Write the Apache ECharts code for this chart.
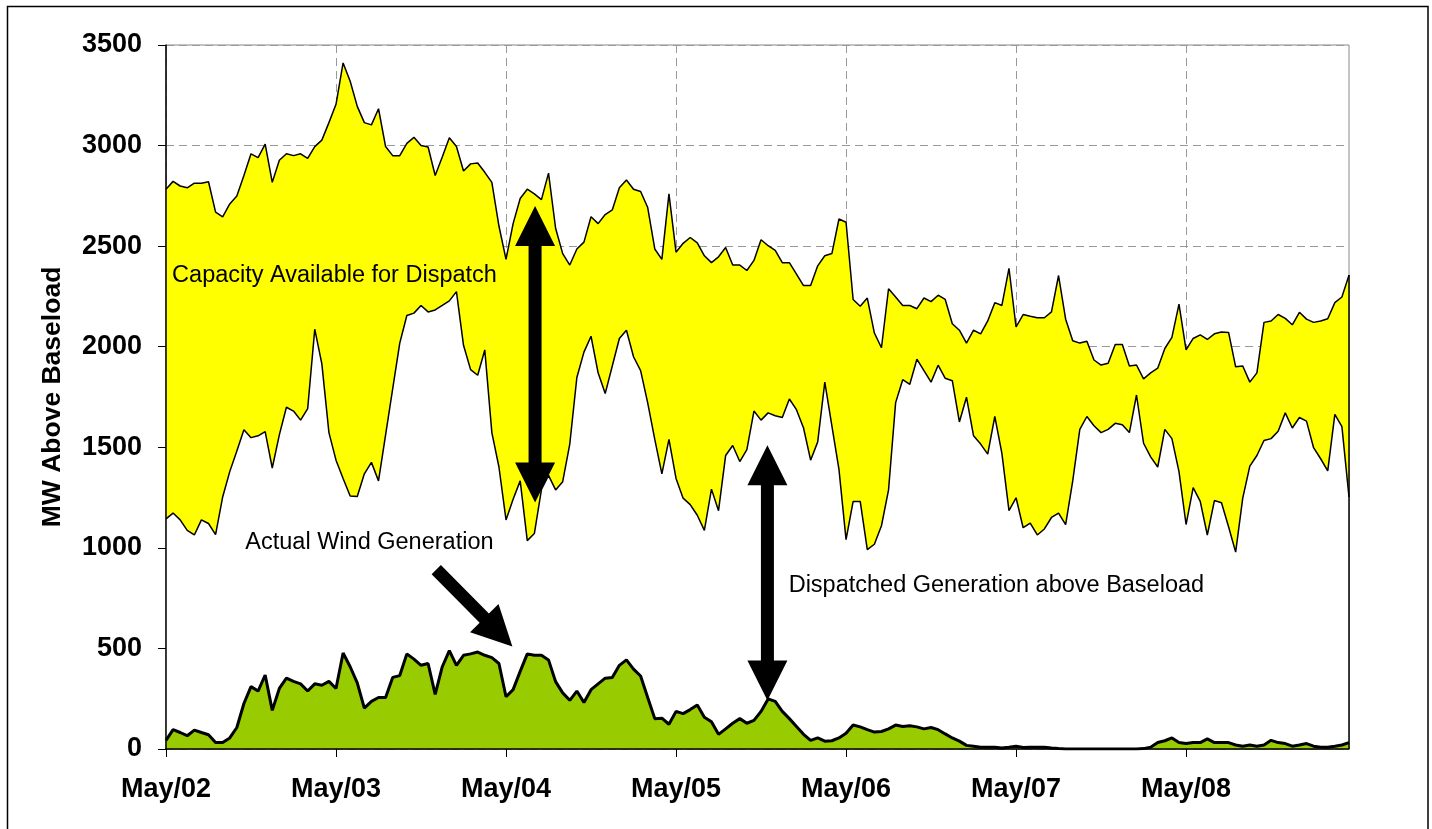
<!DOCTYPE html>
<html>
<head>
<meta charset="utf-8">
<script src="https://cdn.jsdelivr.net/npm/echarts@6/dist/echarts.min.js"></script>
<style>
html,body{margin:0;padding:0;background:#fff;}
#chart{width:1432px;height:829px;}
</style>
</head>
<body>
<div id="chart"></div>
<script>
// x axis: one label per day, hourly points in between
const dayLabels = ['May/02','May/03','May/04','May/05','May/06','May/07','May/08'];

// upper edge of the yellow band (MW above baseload), one row per day
const capacityTop = [
  2783,2822,2799,2790,2813,2813,2820,2669,2646,2710,2749,2851,2959,2940,3007,2817,2927,2959,2950,2959,2936,2995,3027,3114,
  3205,3411,3320,3195,3114,3103,3183,2995,2950,2950,3011,3041,3000,2993,2851,2943,3039,2995,2874,2909,2913,2867,2817,2600,
  2434,2612,2737,2783,2760,2731,2863,2589,2463,2406,2486,2520,2646,2612,2657,2680,2790,2829,2783,2772,2692,2486,2434,2760,
  2470,2514,2543,2516,2452,2418,2447,2493,2406,2406,2379,2429,2532,2502,2479,2418,2418,2361,2304,2304,2402,2452,2463,2635,
  2619,2235,2201,2242,2068,1995,2288,2247,2205,2205,2189,2242,2224,2256,2235,2114,2082,2018,2082,2064,2128,2219,2205,2390,
  2098,2160,2151,2144,2144,2173,2354,2137,2030,2018,2027,1934,1909,1918,2011,2011,1904,1909,1840,1870,1893,1991,2046,2212,
  1984,2041,2059,2036,2064,2073,2071,1900,1904,1824,1870,2121,2128,2160,2141,2109,2171,2137,2121,2128,2139,2219,2247,2356
];

// dispatched generation above baseload (lower edge of the yellow band)
const dispatched = [
  1144,1173,1139,1087,1064,1139,1121,1066,1253,1379,1482,1587,1548,1557,1578,1397,1562,1699,1680,1635,1692,2087,1915,1573,
  1436,1345,1258,1255,1368,1425,1333,1562,1790,2018,2155,2167,2205,2173,2183,2205,2228,2274,2007,1886,1858,1984,1573,1402,
  1139,1242,1333,1036,1071,1290,1360,1288,1329,1516,1847,1973,2052,1870,1767,1904,2041,2082,1950,1881,1721,1539,1368,1539,
  1345,1247,1215,1162,1087,1292,1185,1459,1509,1429,1488,1680,1635,1671,1657,1648,1740,1687,1596,1436,1527,1824,1607,1390,
  1041,1231,1231,991,1018,1110,1288,1722,1836,1813,1938,1881,1824,1908,1843,1831,1626,1749,1557,1516,1466,1653,1470,1185,
  1249,1100,1123,1064,1094,1151,1173,1116,1333,1589,1653,1607,1573,1589,1619,1612,1573,1760,1520,1452,1402,1589,1543,1379,
  1116,1299,1231,1064,1235,1224,1105,979,1247,1406,1459,1534,1543,1580,1671,1596,1648,1630,1498,1443,1383,1664,1603,1253
];

// actual wind generation
const windGen = [
  43,96,82,66,94,82,71,32,32,55,107,226,310,288,368,192,301,352,336,324,288,324,317,336,
  301,477,409,329,203,237,256,256,356,365,473,447,416,425,272,409,489,416,466,473,482,466,454,425,
  260,295,386,473,466,466,443,335,279,242,288,231,295,324,352,356,416,443,397,363,256,151,153,123,
  187,176,196,219,158,135,73,100,128,151,128,142,187,249,237,187,151,112,73,43,55,39,41,55,
  78,119,110,96,84,87,100,119,112,116,110,100,107,96,75,55,39,18,14,9,9,9,5,9,
  14,7,9,9,9,5,2,0,0,0,0,0,0,0,0,0,0,0,2,9,32,41,55,32,
  27,32,32,50,32,32,32,20,14,20,14,20,43,32,27,14,20,27,14,9,9,14,20,32
];

// annotations, in data units (hour index, MW)
const notes = [
  {text:'Capacity Available for Dispatch', h:0.86, v:2352},
  {text:'Actual Wind Generation', h:11.2, v:1026},
  {text:'Dispatched Generation above Baseload', h:87.9, v:812}
];
const arrows = [
  {from:[52.1,1225], to:[52.1,2700], both:true},
  {from:[84.9,241], to:[84.9,1510], both:true},
  {from:[38.15,892], to:[48.9,509], both:false}
];

const hours = [];
dayLabels.forEach(d => { for (let i=0;i<24;i++) hours.push(d + ' ' + i + ':00'); });

const FONT = '"Liberation Sans", Arial, sans-serif';
const gridLine = {color:'#999', width:1, type:[8,5]};

const chart = echarts.init(document.getElementById('chart'));
chart.setOption({
  animation:false,
  backgroundColor:'#fff',
  grid:{left:166, right:83, top:45, bottom:80, show:true, borderColor:'#888', borderWidth:1},
  xAxis:[
    { // gridlines only, under the areas
      type:'category', data:hours, boundaryGap:false,
      axisLine:{show:false}, axisTick:{show:false}, axisLabel:{show:false},
      splitLine:{show:true, interval:23, lineStyle:gridLine}
    },
    { // axis line, ticks, labels on top
      type:'category', data:hours, boundaryGap:false, position:'bottom', z:10,
      axisLine:{lineStyle:{color:'#000', width:1.5}},
      axisTick:{interval:23, length:8, lineStyle:{color:'#000'}},
      axisLabel:{interval:23, margin:27, hideOverlap:false, color:'#000', fontSize:27, fontWeight:'bold', fontFamily:FONT,
        formatter:v => v.split(' ')[0]},
      splitLine:{show:false}
    }
  ],
  yAxis:[
    {
      type:'value', min:0, max:3500, interval:500,
      axisLine:{show:false}, axisTick:{show:false}, axisLabel:{show:false},
      splitLine:{show:true, lineStyle:gridLine}
    },
    {
      type:'value', min:0, max:3500, interval:500, position:'left', z:10,
      name:'MW Above Baseload', nameLocation:'middle', nameGap:100, nameRotate:90,
      nameTextStyle:{color:'#000', fontSize:26.5, fontWeight:'bold', fontFamily:FONT},
      axisLine:{show:true, lineStyle:{color:'#000', width:1.5}},
      axisTick:{show:true, length:8, lineStyle:{color:'#000'}},
      axisLabel:{margin:24, color:'#000', fontSize:27, fontWeight:'bold', fontFamily:FONT,
        formatter:v => String(v)},
      splitLine:{show:false}
    }
  ],
  series:[
    {
      name:'Capacity Available', type:'line', data:capacityTop, symbol:'none',
      lineStyle:{color:'#000', width:1.5}, areaStyle:{color:'#FFFF00', opacity:1},
      markLine:{silent:true, symbol:'none', label:{show:false},
        lineStyle:{color:'#000', width:1.5, type:'solid'},
        data:[[{coord:[capacityTop.length-1, 0]}, {coord:[capacityTop.length-1, capacityTop[capacityTop.length-1]]}]]}
    },
    {
      name:'Dispatched Generation', type:'line', data:dispatched, symbol:'none',
      lineStyle:{color:'#000', width:1.5}, areaStyle:{color:'#fff', opacity:1}
    },
    {
      name:'Actual Wind', type:'line', data:windGen, symbol:'none',
      lineStyle:{color:'#000', width:3}, areaStyle:{color:'#99CC00', opacity:1}
    }
  ]
});

// map annotation data units to pixels
const x0 = chart.convertToPixel({xAxisIndex:0}, 0);
const x1 = chart.convertToPixel({xAxisIndex:0}, hours.length-1);
const xPx = h => x0 + (x1-x0)*h/(hours.length-1);
const yPx = v => chart.convertToPixel({yAxisIndex:0}, v);

function arrowPoints(a, b, both){
  const L = 40, W = 20, s = 6.5;
  const dx = b[0]-a[0], dy = b[1]-a[1], len = Math.hypot(dx,dy);
  const ux = dx/len, uy = dy/len, nx = -uy, ny = ux;
  const pt = (p, u, n) => [p[0]+ux*u+nx*n, p[1]+uy*u+ny*n];
  const pts = [];
  if (both) {
    pts.push(a, pt(a,L,W), pt(a,L,s));
  } else {
    pts.push(pt(a,0,s));
  }
  pts.push(pt(b,-L,s), pt(b,-L,W), b, pt(b,-L,-W), pt(b,-L,-s));
  if (both) {
    pts.push(pt(a,L,-s), pt(a,L,-W));
  } else {
    pts.push(pt(a,0,-s));
  }
  return pts;
}

const graphic = [
  {type:'rect', silent:true, shape:{x:7.5, y:6.5, width:1420.5, height:840},
   style:{fill:null, stroke:'#000', lineWidth:1.5}}
];
notes.forEach(n => graphic.push({
  type:'text', silent:true, z:100,
  style:{text:n.text, x:xPx(n.h), y:yPx(n.v), fill:'#000', fontSize:23.5, fontFamily:FONT,
    align:'left', verticalAlign:'middle'}
}));
arrows.forEach(a => graphic.push({
  type:'polygon', silent:true, z:100,
  shape:{points:arrowPoints([xPx(a.from[0]), yPx(a.from[1])], [xPx(a.to[0]), yPx(a.to[1])], a.both)},
  style:{fill:'#000'}
}));
chart.setOption({graphic:graphic});
</script>
</body>
</html>
